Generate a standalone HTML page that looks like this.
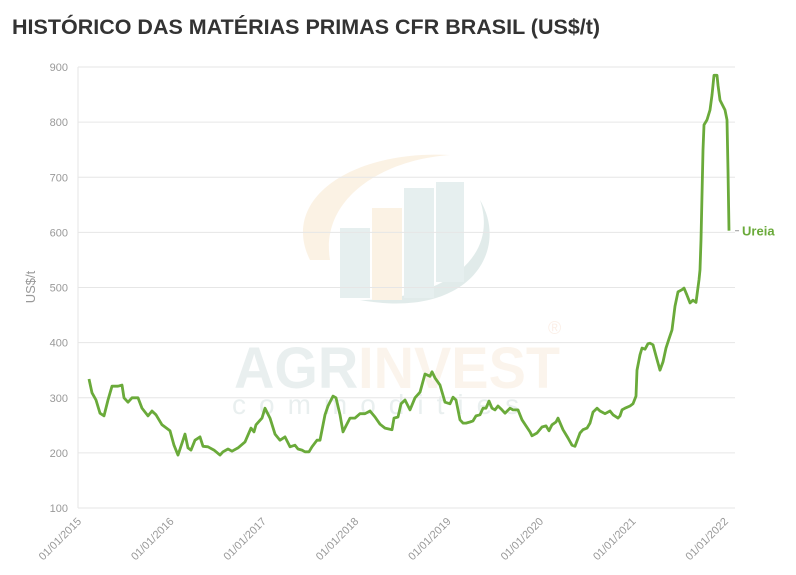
<!DOCTYPE html>
<html><head><meta charset="utf-8"><style>
body{margin:0;background:#fff;font-family:"Liberation Sans",sans-serif;}
#wrap{position:relative;width:796px;height:575px;overflow:hidden;}
h1{position:absolute;left:12px;top:15px;margin:0;font-size:21.5px;font-weight:bold;color:#333;letter-spacing:0px;}
</style></head><body>
<div id="wrap">
<h1>HISTÓRICO DAS MATÉRIAS PRIMAS CFR BRASIL (US$/t)</h1>
<svg id="chart" width="796" height="575" style="position:absolute;left:0;top:0"></svg>
</div>
<script>
// months since 01/01/2015
const months=[1.43,1.82,2.34,2.86,3.38,3.9,4.42,5.19,5.71,5.97,6.49,7.01,7.79,8.31,9.09,9.61,10.13,10.91,11.95,12.47,12.99,13.64,13.9,14.29,14.68,15.19,15.84,16.23,16.88,17.66,18.44,18.83,19.48,20,20.78,21.69,22.47,22.86,23.12,23.9,24.29,24.94,25.58,26.23,26.88,27.53,28.18,28.57,29.09,29.48,30,30.39,31.04,31.43,32.08,32.47,33.12,33.51,34.03,34.42,34.81,35.32,35.97,36.62,37.27,37.92,38.57,39.22,39.87,40.78,41.04,41.56,41.95,42.47,43.12,43.77,44.42,45.06,45.71,45.97,46.36,47.01,47.66,48.31,48.7,49.09,49.61,50,50.39,50.91,51.3,51.69,52.21,52.6,52.99,53.38,53.77,54.16,54.55,55.06,55.45,56.1,56.49,57.14,57.66,58.18,58.7,58.96,59.61,60.26,60.78,61.17,61.56,62.08,62.34,62.99,63.64,64.16,64.55,65.19,65.58,66.1,66.49,66.88,67.4,67.79,68.44,69.09,69.48,70.13,70.39,70.65,71.04,71.69,72.08,72.47,72.6,72.99,73.25,73.64,74.03,74.29,74.68,75.06,75.58,75.97,76.36,76.75,77.14,77.53,77.92,78.44,78.7,79.09,79.48,79.87,80.26,80.65,80.78,80.91,81.17,81.3,81.69,82.08,82.34,82.6,82.99,83.12,83.38,84.03,84.29,84.42,84.55];
const ureia=[334,309,296,272,267,296,321,321,323,300,292,300,300,281,267,276,269,251,240,214,196,223,234,209,205,223,229,212,211,205,196,202,207,203,209,220,245,238,251,263,281,263,234,223,229,211,214,207,205,202,202,211,223,223,269,285,303,300,269,238,249,263,263,271,271,276,265,252,245,242,263,265,289,296,278,300,310,343,339,347,336,323,292,289,301,296,260,254,254,256,258,267,269,281,281,294,281,278,285,278,272,281,278,278,260,249,238,231,236,247,249,240,251,256,263,242,227,214,212,236,242,245,254,274,281,276,271,276,269,263,267,278,281,285,289,303,350,378,390,388,398,399,396,376,350,365,390,407,423,466,492,496,499,486,472,477,473,514,532,586,749,795,804,822,849,885,885,867,840,822,804,713,603];
const yTicks=[100,200,300,400,500,600,700,800,900];
const xTickLabels=["01/01/2015","01/01/2016","01/01/2017","01/01/2018","01/01/2019","01/01/2020","01/01/2021","01/01/2022"];
const seriesName="Ureia";

const svg=document.getElementById('chart');
const NS="http://www.w3.org/2000/svg";
const X0=78,X1=735,Y0=508,Y1=67;
const xs=m=>X0+m*7.7;
const ys=v=>Y0-(v-100)/800*(Y0-Y1);
function mk(t,a,p){const e=document.createElementNS(NS,t);for(const k in a)e.setAttribute(k,a[k]);(p||svg).appendChild(e);return e;}

// watermark
const wm=mk('g',{opacity:0.16});


mk('path',{d:'M310,260 C280,200 350,150 450,155 C380,160 320,200 330,260 Z',fill:'#e8b060'},wm);
mk('path',{d:'M360,300 C470,320 510,250 480,200 C500,260 440,300 360,300 Z',fill:'#4a8a80'},wm);
mk('rect',{x:340,y:228,width:30,height:70,fill:'#6aa0a0'},wm);
mk('rect',{x:372,y:208,width:30,height:92,fill:'#e8b060'},wm);
mk('rect',{x:404,y:188,width:30,height:110,fill:'#6aa0a0'},wm);
mk('rect',{x:436,y:182,width:28,height:100,fill:'#6aa0a0'},wm);
const tw=mk('text',{x:234,y:388,'font-size':58,'font-weight':'bold',textLength:326,lengthAdjust:'spacingAndGlyphs'},wm);
const s1=mk('tspan',{fill:'#7aa0a0'},tw);s1.textContent='AGR';
const s2=mk('tspan',{fill:'#e8c090'},tw);s2.textContent='INVEST';
const t3=mk('text',{x:232,y:414,'font-size':28,fill:'#7aa0a0','letter-spacing':'13'},wm);t3.textContent='commodities';
const t4=mk('text',{x:548,y:334,'font-size':18,fill:'#e8a070'},wm);t4.textContent='®';

// grid + y ticks
yTicks.forEach(v=>{
  const l=mk('line',{x1:X0,x2:X1,y1:ys(v),y2:ys(v),stroke:'#e6e6e6','stroke-width':1});
  
  
  const t=mk('text',{x:68,y:ys(v)+4,'text-anchor':'end','font-size':11,fill:'#999'});
  
  
  t.textContent=v;
});
const ax=mk('line',{x1:X0,x2:X0,y1:Y1,y2:Y0,stroke:'#e6e6e6'});


const yt=mk('text',{x:0,y:0,transform:'translate(35,287) rotate(-90)','text-anchor':'middle','font-size':13,fill:'#999'});


yt.textContent='US$/t';

// x ticks
xTickLabels.forEach((s,i)=>{
  const x=xs(i*12);
  const t=mk('text',{x:0,y:0,transform:`translate(${x+4},${Y0+14}) rotate(-45)`,'text-anchor':'end','font-size':11,fill:'#999'});
  
  
  t.textContent=s;
});

// line
let d='';
months.forEach((m,i)=>{d+=(i?'L':'M')+xs(m).toFixed(1)+','+ys(ureia[i]).toFixed(1);});
const p=mk('path',{d:d,fill:'none',stroke:'#6aaa3a','stroke-width':2.8,'stroke-linejoin':'round'});


const lm=months[months.length-1],lv=ureia[ureia.length-1];
const dash=mk('line',{x1:xs(lm)+6,x2:xs(lm)+10,y1:ys(lv),y2:ys(lv),stroke:'#999'});


const lab=mk('text',{x:xs(lm)+13,y:ys(lv)+5,'font-size':13,'font-weight':'bold',fill:'#6aaa3a'});


lab.textContent=seriesName;
</script>
</body></html>
